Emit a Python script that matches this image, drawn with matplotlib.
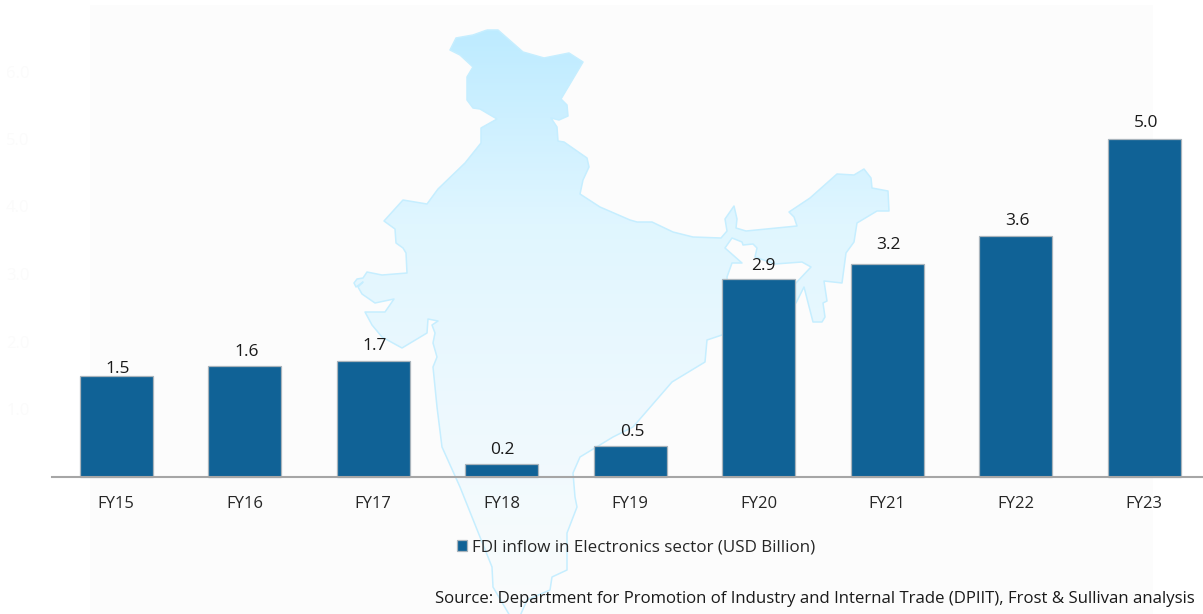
import numpy as np
import matplotlib
matplotlib.use("Agg")
import matplotlib.pyplot as plt
from matplotlib.colors import LinearSegmentedColormap
from matplotlib.patches import Polygon, Rectangle

categories = ["FY15", "FY16", "FY17", "FY18", "FY19", "FY20", "FY21", "FY22", "FY23"]
bar_heights = [1.49, 1.64, 1.71, 0.19, 0.45, 2.93, 3.15, 3.57, 5.0]
value_labels = ["1.5", "1.6", "1.7", "0.2", "0.5", "2.9", "3.2", "3.6", "5.0"]
y_ticks = [1.0, 2.0, 3.0, 4.0, 5.0, 6.0]
series_name = "FDI inflow in Electronics sector (USD Billion)"
source_text = "Source: Department for Promotion of Industry and Internal Trade (DPIIT), Frost & Sullivan analysis"

# Label nudges (pixels) relative to the bar top centre
label_dx = [1.5, 2, 2, 1, 2, 5, 1, 2, 2]
label_dy = [6.5, 14, 15, 14, 14, 13, 19, 15, 16]

# Decorative map backdrop, traced in image pixels
india_outline = [
    (487,30),(498,30),(523,52),(544,58),(569,53),(583,62),(561,99),(567,105),(568,116),(559,120),
    (551,118),(557,127),(558,141),(564,142),(587,158),(589,167),(583,180),(580,194),(600,207),(630,220),
    (637,222),(652,222),(673,232),(693,237),(721,238),(727,231),(725,219),(734,206),(737,219),(736,228),
    (746,231),(797,226),(794,217),(789,212),(810,198),(837,174),(854,175),(864,169),(871,178),(872,188),
    (888,191),(889,211),(877,211),(857,223),(854,242),(846,253),(842,283),(824,281),(827,301),(823,303),
    (825,317),(822,322),(813,322),(804,287),(796,303),(790,300),(795,284),(811,267),(802,262),(775,264),
    (755,257),(757,248),(753,244),(743,245),(742,242),(732,238),(725,248),(742,263),(732,263),(727,277),
    (730,325),(722,335),(707,340),(705,362),(672,382),(633,427),(613,437),(580,457),(573,473),(575,497),
    (577,507),(567,533),(567,570),(552,577),(550,590),(527,600),(520,616),(510,616),(493,587),(492,567),
    (460,487),(442,447),(437,407),(433,367),(437,357),(433,343),(435,333),(432,325),(438,321),(428,319),
    (427,333),(402,348),(382,337),(372,325),(365,312),(385,312),(394,299),(375,303),(362,294),(358,287),
    (363,282),(356,287),(354,283),(357,279),(363,278),(367,272),(382,275),(407,273),(406,253),(403,248),
    (396,243),(395,229),(384,221),(403,200),(427,204),(438,189),(465,163),(481,143),(481,128),(497,119),
    (480,109),(473,108),(467,100),(467,77),(473,67),(460,55),(450,50),(456,38),(473,35),
]

W, H = 1203, 614
plt.rcParams["font.family"] = ["Open Sans", "DejaVu Sans"]
fig = plt.figure(figsize=(W / 100, H / 100), dpi=100, facecolor="white")

# Backdrop layer in pixel coordinates
bg = fig.add_axes([0, 0, 1, 1], zorder=0)
bg.set_xlim(0, W)
bg.set_ylim(H, 0)
bg.axis("off")
bg.add_patch(Rectangle((90, 5), 1063, H, fc="#fcfcfc", ec="none"))
cmap = LinearSegmentedColormap.from_list("map", ["#bdebff", "#e0f6ff", "#eef9fe", "#fbfcfc"])
grad = np.linspace(0, 1, 256).reshape(-1, 1)
im = bg.imshow(grad, cmap=cmap, extent=(340, 900, 616, 28), aspect="auto", zorder=1)
bg.set_xlim(0, W)
bg.set_ylim(H, 0)
clip = Polygon(india_outline, closed=True, transform=bg.transData, fc="none", ec="none")
bg.add_patch(clip)
im.set_clip_path(clip)
bg.add_patch(Polygon(india_outline, closed=True, fc="none", ec="#c6eeff", lw=1.1, zorder=2, joinstyle="round"))

# Chart layer
px_left, px_right = 51.75, 1208.25
px_top, px_base = 71.5, 476.5
ax = fig.add_axes([px_left / W, 1 - px_base / H, (px_right - px_left) / W, (px_base - px_top) / H], zorder=1)
ax.patch.set_visible(False)
x = np.arange(len(categories))
bars = ax.bar(x, bar_heights, width=73 / 128.5, color="#106296", edgecolor="#a9b4bc", linewidth=0.9,
              label=series_name, zorder=3, clip_on=False)
ax.set_xlim(-0.5, len(categories) - 0.5)
ax.set_ylim(0, 6)
ax.set_xticks(x, categories)
ax.set_yticks(y_ticks, [f"{v:.1f}" for v in y_ticks])
ax.tick_params(axis="x", length=0, pad=14, labelsize=12, labelcolor="#262626")
ax.tick_params(axis="y", length=0, pad=16, labelsize=12, labelcolor="#fbfbfb")
for side in ("top", "right", "left"):
    ax.spines[side].set_visible(False)
ax.spines["bottom"].set_color("#a6a6a6")
ax.spines["bottom"].set_linewidth(1.5)
ax.spines["bottom"].set_zorder(4)

for xi, h, text, dx, dy in zip(x, bar_heights, value_labels, label_dx, label_dy):
    ax.annotate(text, (xi, h), xytext=(dx * 0.72, dy * 0.72), textcoords="offset points",
                ha="center", va="center", fontsize=12.5, color="#1a1a1a", zorder=5)

leg = ax.legend(loc="center", bbox_to_anchor=(636 / W, 1 - 547.5 / H), bbox_transform=fig.transFigure,
                frameon=False, fontsize=12.25, handlelength=0.6, handleheight=0.6, handletextpad=0.3,
                labelcolor="#262626", borderpad=0)
fig.text(814.5 / W, 1 - 599 / H, source_text, ha="center", va="center", fontsize=12.05, color="#1a1a1a")

fig.savefig("out.png", dpi=100, facecolor="white")
